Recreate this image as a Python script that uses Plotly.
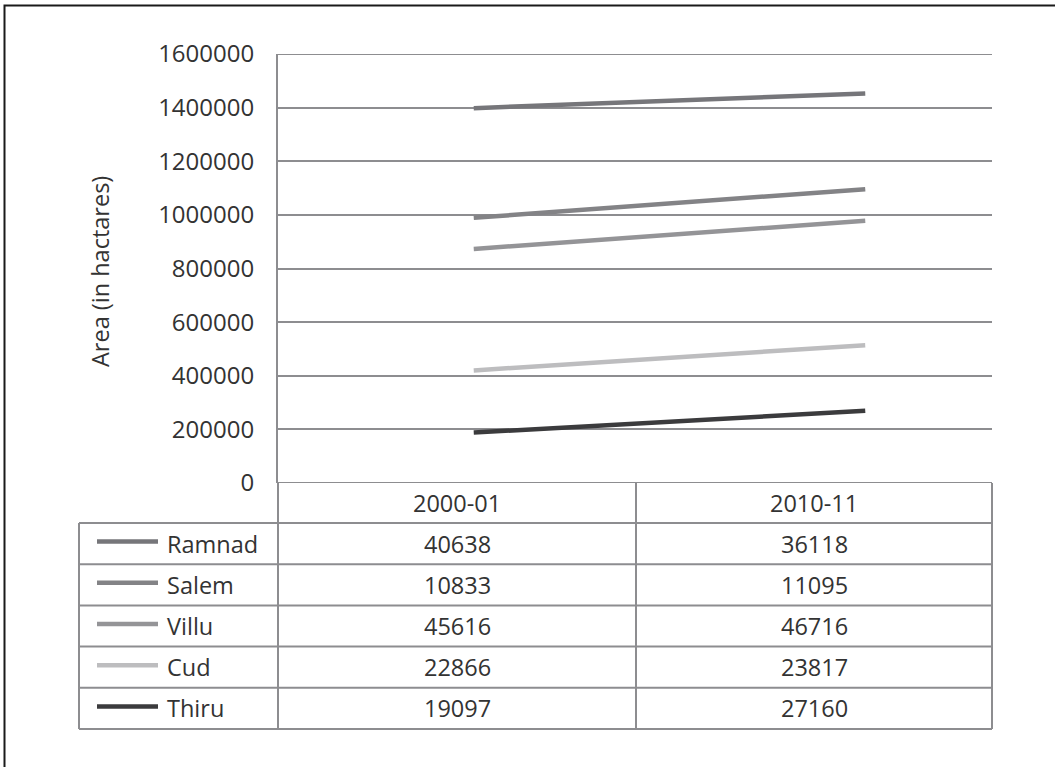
import plotly.graph_objects as go

# ---- data ----
periods = ["2000-01", "2010-11"]
districts = ["Ramnad", "Salem", "Villu", "Cud", "Thiru"]
area_ramnad = [1398000, 1453000]
area_salem = [989000, 1096000]
area_villu = [873000, 978000]
area_cud = [420000, 514000]
area_thiru = [188000, 269000]
table_2000 = [40638, 10833, 45616, 22866, 19097]
table_2010 = [36118, 11095, 46716, 23817, 27160]
y_ticks = [0, 200000, 400000, 600000, 800000, 1000000, 1200000, 1400000, 1600000]

series = [area_ramnad, area_salem, area_villu, area_cud, area_thiru]
colors = ["#76767a", "#838386", "#949497", "#bdbdbf", "#3b3b3d"]

W, H = 1055, 767
L, R, T, B = 278, 992, 54, 483  # plot area in px
FONT = "Open Sans"
FS = 23.5
TXT = "#333333"
GRID = "#8d8d90"


def px(x):
    return (x - L) / (R - L)


def py(y):
    return (B - y) / (B - T)


fig = go.Figure()
for name, vals, col in zip(districts, series, colors):
    fig.add_trace(go.Scatter(x=periods, y=vals, mode="lines", name=name,
                             line=dict(color=col, width=4.5), showlegend=False))

shapes = []
annotations = []

# outer frame
shapes.append(dict(type="rect", xref="paper", yref="paper",
                   x0=px(4.5), y0=py(5.5), x1=px(1200), y1=py(900),
                   line=dict(color="#1a1a1a", width=2)))

# edge gridlines (0 and top)
for yv in [y_ticks[0], y_ticks[-1]]:
    shapes.append(dict(type="line", xref="paper", yref="y", x0=0, x1=1, y0=yv, y1=yv,
                       line=dict(color=GRID, width=2), layer="below"))


def hline(y, x0, x1):
    shapes.append(dict(type="line", xref="paper", yref="paper",
                       x0=px(x0), x1=px(x1), y0=py(y), y1=py(y),
                       line=dict(color=GRID, width=2)))


def vline(x, y0, y1):
    shapes.append(dict(type="line", xref="paper", yref="paper",
                       x0=px(x), x1=px(x), y0=py(y0), y1=py(y1),
                       line=dict(color=GRID, width=2)))


col_left = 79
col_mid = 636
header_bottom = 523
row_h = 41.2
n = len(districts)
table_bottom = header_bottom + n * row_h

for i in range(n + 1):
    hline(header_bottom + i * row_h, col_left, R)
vline(col_left, header_bottom, table_bottom)
vline(L, B, table_bottom)
vline(col_mid, B, table_bottom)
vline(R, B, table_bottom)

c1 = (L + col_mid) / 2
c2 = (col_mid + R) / 2
for cx, lab in zip([c1, c2], periods):
    annotations.append(dict(xref="paper", yref="paper", x=px(cx), y=py((B + header_bottom) / 2),
                            text=lab, showarrow=False, xanchor="center", yanchor="middle",
                            font=dict(family=FONT, size=FS, color=TXT)))

for i, name in enumerate(districts):
    cy = header_bottom + (i + 0.5) * row_h
    shapes.append(dict(type="line", xref="paper", yref="paper",
                       x0=px(97), x1=px(158), y0=py(cy - 2), y1=py(cy - 2),
                       line=dict(color=colors[i], width=4.5)))
    annotations.append(dict(xref="paper", yref="paper", x=px(165), y=py(cy),
                            text=name, showarrow=False, xanchor="left", yanchor="middle",
                            font=dict(family=FONT, size=FS, color=TXT)))
    for cx, v in zip([c1, c2], [table_2000[i], table_2010[i]]):
        annotations.append(dict(xref="paper", yref="paper", x=px(cx), y=py(cy),
                                text=str(v), showarrow=False, xanchor="center", yanchor="middle",
                                font=dict(family=FONT, size=FS, color=TXT)))

annotations.append(dict(xref="paper", yref="paper", x=px(100), y=py(272),
                        text="Area (in hactares)", showarrow=False, textangle=-90,
                        xanchor="center", yanchor="middle",
                        font=dict(family=FONT, size=FS, color=TXT)))

fig.update_layout(
    width=W, height=H,
    margin=dict(l=L, r=W - R, t=T, b=H - B),
    paper_bgcolor="white", plot_bgcolor="white",
    shapes=shapes, annotations=annotations,
    xaxis=dict(type="category", range=[-0.5, 1.3238], showticklabels=False,
               showgrid=False, zeroline=False, showline=False, ticks=""),
    yaxis=dict(range=[0, 1600000], tickvals=y_ticks, ticktext=[str(v) for v in y_ticks],
               showgrid=True, gridcolor=GRID, gridwidth=2, zeroline=False,
               showline=True, linecolor=GRID, linewidth=2, ticks="",
               ticklabelstandoff=17,
               tickfont=dict(family=FONT, size=24, color=TXT)),
)

fig.write_html("out.html", config={"displayModeBar": False},
               post_script="document.body.style.margin='0';document.body.style.overflow='hidden';")
